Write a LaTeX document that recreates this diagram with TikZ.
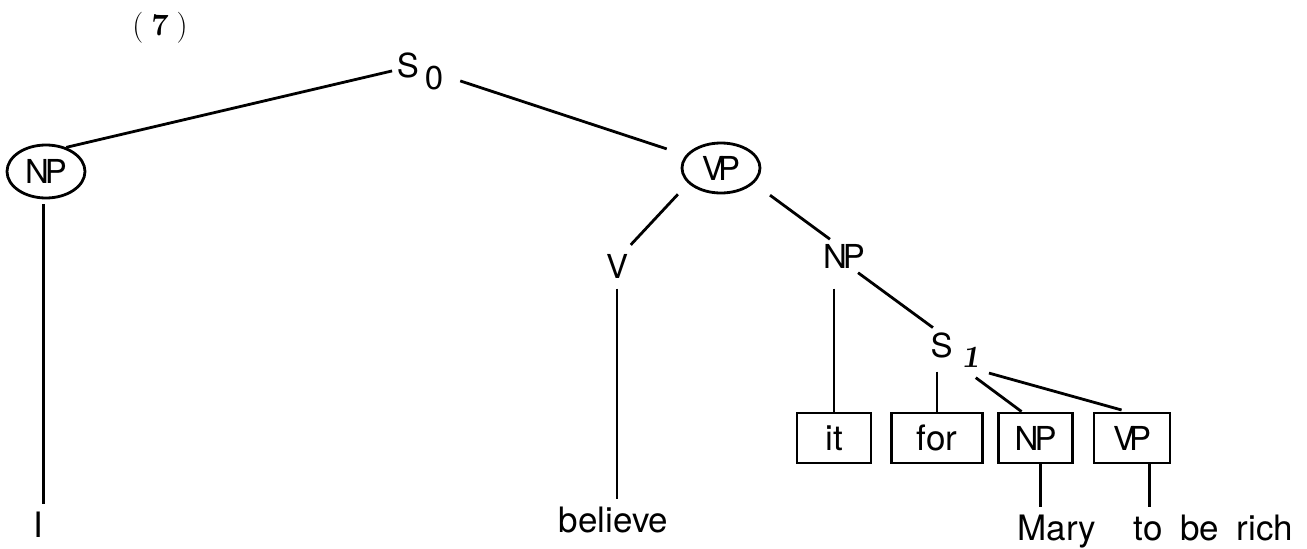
\documentclass[tikz,border=0pt]{standalone}
\usepackage{fontspec}
\newfontfamily\heros{TeX Gyre Heros}
\usetikzlibrary{shapes.geometric}

\begin{document}
\begin{tikzpicture}[x=1pt, y=-1pt, line width=2.8pt,
  catlabel/.style={font=\heros\fontsize{33}{38}\selectfont, anchor=base},
  catoval/.style={shape=ellipse, draw, inner sep=0pt, font=\heros\fontsize{33}{38}\selectfont},
  catbox/.style={shape=rectangle, draw, inner sep=0pt, minimum height=50pt, font=\heros\fontsize{33}{38}\selectfont},
  word/.style={font=\heros\fontsize{35}{40}\selectfont, anchor=base, inner sep=6pt}]
\useasboundingbox (0,0) rectangle (1307,549);

\node [anchor=base, font=\fontsize{31}{36}\selectfont] (num) at (160,35) {(\kern8pt\textbf{7}\kern8pt)};

\node [catlabel] (S0) at (420,77) {S\kern6pt\raisebox{-12pt}{0}};
\node [catoval, minimum width=78pt, minimum height=53pt] (NPsubj) at (46,171.5) {N\kern-4pt P};
\node [catoval, minimum width=78pt, minimum height=50pt] (VPmain) at (721,168) {V\kern-6pt P};
\node [catlabel] (V) at (617,278) {V};
\node [catlabel] (NPobj) at (844,268) {N\kern-4pt P};
\node [catlabel] (S1) at (955,357) {S\kern9pt\raisebox{-10pt}{\fontsize{31}{36}\rmfamily\bfseries\slshape 1}};

\node [catbox, minimum width=74pt, font=\heros\fontsize{35}{40}\selectfont] (It) at (834,438) {it};
\node [catbox, minimum width=91pt, font=\heros\fontsize{35}{40}\selectfont] (For) at (937,438) {for};
\node [catbox, minimum width=74pt] (NPbox) at (1035.6,438) {N\kern-4pt P};
\node [catbox, minimum width=76pt] (VPbox) at (1132,438) {V\kern-6pt P};

\node [word] (I) at (38.7,537) {I};
\node [word] (believe) at (613.5,532) {believe};
\node [word] (Mary) at (1057,540) {Mary};
\node [word] (rich) at (1213.5,540) {to\hspace{8pt} be\hspace{8pt} rich};

\draw (S0.west) -- (NPsubj.50);
\draw [shorten <=13pt, shorten >=20pt] (S0.-12) -- (VPmain.160);
\draw [shorten <=5pt] (NPsubj.-95) -- (NPsubj.-95 |- I.north);
\draw [shorten <=15pt, shorten >=6pt] (VPmain.205) -- (V.60);
\draw [shorten <=20pt] (VPmain.-25) -- (NPobj.130);
\draw [shorten <=6pt] (V.south) -- (V.south |- believe.north);
\draw [shorten <=16pt] (It.north |- NPobj.south) -- (It.north);
\draw (NPobj.-50) -- (S1.135);
\draw (S1.south -| For.north) -- (For.north);
\draw [shorten <=10pt] (S1.-60) -- (NPbox.118);
\draw [shorten <=5pt, shorten >=6pt] (S1.south east) -- (VPbox.100);
\draw (NPbox.-80) -- (NPbox.-80 |- Mary.north);
\draw (VPbox.-57) -- (VPbox.-57 |- rich.north);
\end{tikzpicture}
\end{document}
